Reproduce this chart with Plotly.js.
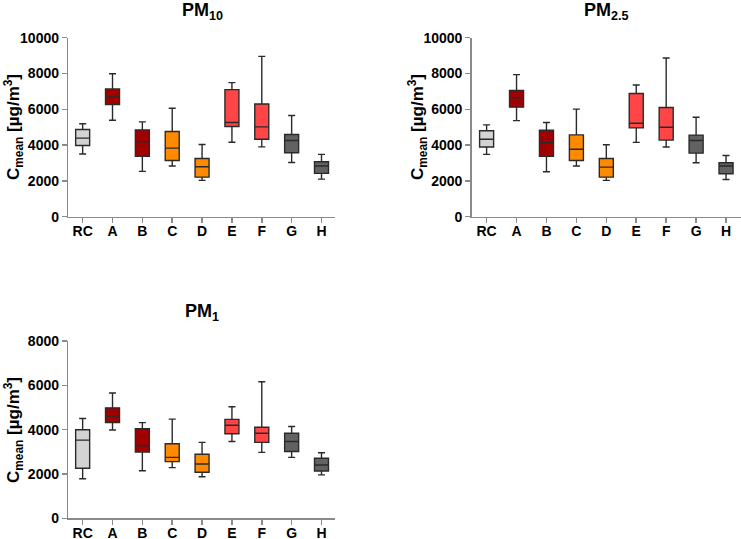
<!DOCTYPE html>
<html>
<head>
<meta charset="utf-8">
<script src="https://cdn.plot.ly/plotly-3.0.1.min.js"></script>
<style>
  body { margin: 0; background: #fff; }
  #chart { width: 741px; height: 539px; }
</style>
</head>
<body>
<div id="chart"></div>
<script>
var categories = ['RC', 'A', 'B', 'C', 'D', 'E', 'F', 'G', 'H'];

// PM10 box statistics
var pm10Low  = [3500, 5390, 2530, 2830, 2030, 4160, 3900, 3030, 2100];
var pm10Q1   = [3980, 6270, 3370, 3140, 2210, 5040, 4330, 3570, 2420];
var pm10Med  = [4390, 6690, 4180, 3830, 2790, 5260, 5020, 4260, 2830];
var pm10Q3   = [4870, 7140, 4850, 4760, 3250, 7100, 6300, 4590, 3070];
var pm10High = [5190, 7990, 5300, 6060, 4030, 7490, 8960, 5650, 3480];

// PM2.5 box statistics
var pm25Low  = [3480, 5370, 2510, 2830, 2030, 4150, 3890, 3010, 2080];
var pm25Q1   = [3890, 6120, 3370, 3140, 2210, 4960, 4280, 3550, 2400];
var pm25Med  = [4330, 6640, 4130, 3770, 2770, 5220, 5000, 4260, 2830];
var pm25Q3   = [4800, 7050, 4830, 4570, 3250, 6880, 6100, 4560, 3010];
var pm25High = [5130, 7940, 5260, 6010, 4020, 7360, 8870, 5560, 3420];

// PM1 box statistics
var pm1Low  = [1790, 3990, 2150, 2290, 1880, 3470, 2980, 2750, 1960];
var pm1Q1   = [2260, 4320, 2990, 2560, 2080, 3820, 3430, 3020, 2140];
var pm1Med  = [3530, 4620, 3280, 2750, 2450, 4200, 3840, 3470, 2410];
var pm1Q3   = [4000, 4990, 4050, 3370, 2890, 4470, 4110, 3840, 2710];
var pm1High = [4510, 5660, 4320, 4480, 3430, 5040, 6170, 4150, 2960];

var fills = ['#d3d3d3', '#a10000', '#a10000', '#ff8a00', '#ff8a00',
             '#ff4545', '#ff4545', '#626262', '#626262'];

var panels = [
  {low: pm10Low, q1: pm10Q1, med: pm10Med, q3: pm10Q3, high: pm10High, xa: 'x', ya: 'y'},
  {low: pm25Low, q1: pm25Q1, med: pm25Med, q3: pm25Q3, high: pm25High, xa: 'x2', ya: 'y2'},
  {low: pm1Low,  q1: pm1Q1,  med: pm1Med,  q3: pm1Q3,  high: pm1High,  xa: 'x3', ya: 'y3'}
];

var traces = [];
panels.forEach(function(p) {
  for (var i = 0; i < categories.length; i++) {
    traces.push({
      type: 'box',
      x: [categories[i]],
      q1: [p.q1[i]], median: [p.med[i]], q3: [p.q3[i]],
      lowerfence: [p.low[i]], upperfence: [p.high[i]],
      fillcolor: fills[i],
      line: {color: '#2a2a2a', width: 1.4},
      whiskerwidth: 0.5,
      xaxis: p.xa, yaxis: p.ya,
      showlegend: false,
      hoverinfo: 'skip'
    });
  }
});

var font = {family: 'Liberation Sans, Arial, sans-serif', size: 14, color: '#000', weight: 'bold'};

function xAxis(domain, anchor, range) {
  return {
    domain: domain, anchor: anchor, type: 'category',
    categoryorder: 'array', categoryarray: categories,
    range: range, showgrid: false, zeroline: false,
    showline: true, linecolor: '#8a8a8a', linewidth: 1.5,
    ticks: 'outside', ticklen: 5, tickcolor: '#8a8a8a', tickwidth: 1.5,
    ticklabelstandoff: -4,
    tickfont: font, fixedrange: true
  };
}
function yAxis(domain, anchor, max) {
  return {
    domain: domain, anchor: anchor, range: [0, max], dtick: 2000, tickformat: 'd',
    showgrid: false, zeroline: false,
    showline: true, linecolor: '#8a8a8a', linewidth: 1.5,
    ticks: 'outside', ticklen: 5, tickcolor: '#8a8a8a', tickwidth: 1.5,
    tickfont: font, fixedrange: true
  };
}

var ytitle = '<b>C<sub>mean</sub> [µg/m<sup>3</sup>]</b>';
var titleFont = {family: 'Liberation Sans, Arial, sans-serif', size: 18, color: '#000'};
var ytFont = {family: 'Liberation Sans, Arial, sans-serif', size: 17, color: '#000'};

function note(text, px, py, f, angle) {
  return {text: text, x: px / 741, y: 1 - py / 539, xref: 'paper', yref: 'paper',
          xanchor: 'center', yanchor: 'middle', textangle: angle || 0,
          showarrow: false, font: f};
}

var layout = {
  width: 741, height: 539,
  margin: {l: 0, r: 0, t: 0, b: 0},
  paper_bgcolor: '#fff', plot_bgcolor: '#fff',
  boxmode: 'overlay', boxgap: 0.33,
  xaxis: xAxis([0.0922, 0.452], 'y', [-0.48, 8.45]),
  yaxis: yAxis([0.598, 0.930], 'x', 10000),
  xaxis2: xAxis([0.6365, 1.0], 'y2', [-0.5, 8.5]),
  yaxis2: yAxis([0.598, 0.930], 'x2', 10000),
  xaxis3: xAxis([0.0922, 0.452], 'y3', [-0.48, 8.45]),
  yaxis3: yAxis([0.0384, 0.367], 'x3', 8000),
  annotations: [
    note('<b>PM<sub>10</sub></b>', 202, 11, titleFont),
    note('<b>PM<sub>2.5</sub></b>', 606, 11, titleFont),
    note('<b>PM<sub>1</sub></b>', 202, 312, titleFont),
    note(ytitle, 13, 127, ytFont, -90),
    note(ytitle, 417, 127, ytFont, -90),
    note(ytitle, 13, 430, ytFont, -90)
  ]
};

Plotly.newPlot('chart', traces, layout, {displayModeBar: false, staticPlot: true});
</script>
</body>
</html>
